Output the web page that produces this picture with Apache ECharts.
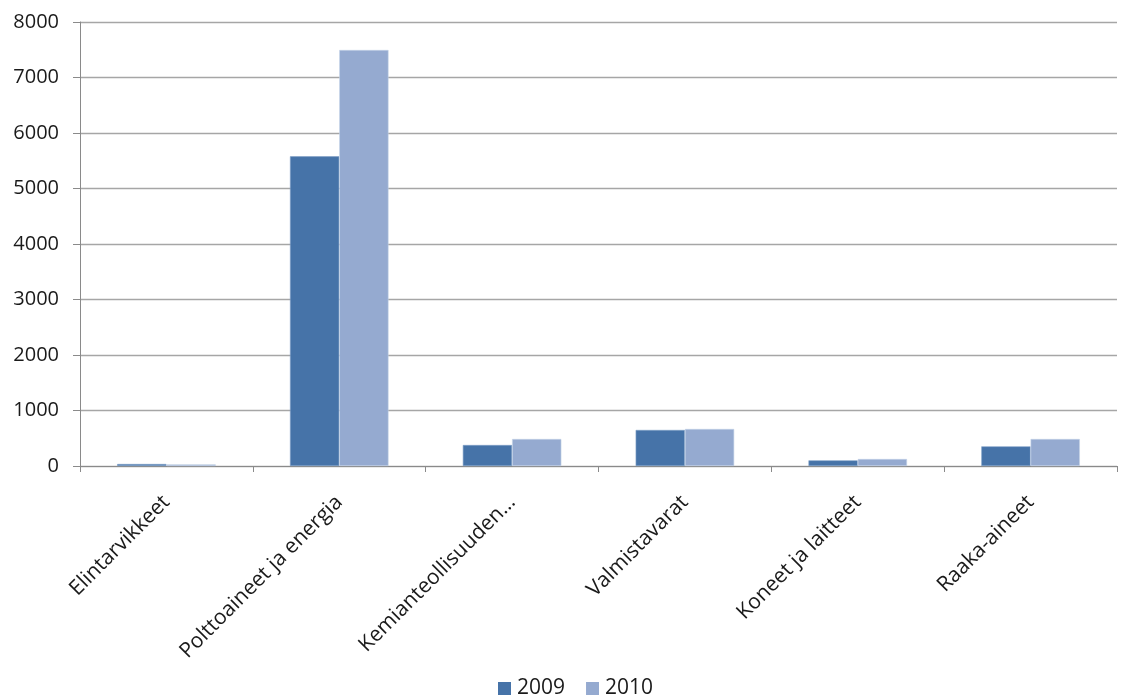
<!DOCTYPE html>
<html>
<head>
<meta charset="utf-8">
<script src="https://cdn.jsdelivr.net/npm/echarts@6/dist/echarts.min.js"></script>
<style>
  html, body { margin: 0; padding: 0; background: #fff; }
  #chart { width: 1124px; height: 698px; }
</style>
</head>
<body>
<div id="chart"></div>
<script>
var categories = ['Elintarvikkeet', 'Polttoaineet ja energia', 'Kemianteollisuuden…', 'Valmistavarat', 'Koneet ja laitteet', 'Raaka-aineet']
var values2009 = [36, 5580, 378, 649, 102, 354]
var values2010 = [30, 7495, 486, 667, 126, 486]
var seriesNames = ['2009', '2010']

var chart = echarts.init(document.getElementById('chart'))
var font = '"Open Sans", "Liberation Sans", sans-serif'

chart.setOption({
  backgroundColor: '#ffffff',
  animation: false,
  textStyle: { fontFamily: font },
  grid: {
    left: 80,
    right: 7,
    top: 22,
    bottom: 232
  },
  legend: {
    top: 673,
    left: 493,
    padding: 5,
    itemWidth: 13,
    itemHeight: 13,
    itemGap: 21,
    icon: 'rect',
    data: seriesNames,
    itemStyle: { borderWidth: 0 },
    textStyle: { fontSize: 21, color: '#1a1a1a', fontFamily: font, padding: [0, 0, 0, 1] }
  },
  xAxis: {
    type: 'category',
    data: categories,
    axisLine: { lineStyle: { color: '#8a8a8a', width: 1 } },
    axisTick: { show: true, alignWithLabel: false, length: 6, lineStyle: { color: '#8a8a8a' } },
    axisLabel: {
      rotate: 45,
      interval: 0,
      fontSize: 21,
      color: '#1a1a1a',
      margin: 33,
      fontFamily: font
    }
  },
  yAxis: {
    type: 'value',
    min: 0,
    max: 8000,
    interval: 1000,
    axisLine: { show: true, lineStyle: { color: '#8a8a8a' } },
    axisTick: { show: true, length: 7, lineStyle: { color: '#8a8a8a' } },
    axisLabel: {
      fontSize: 20,
      color: '#1a1a1a',
      margin: 21,
      fontFamily: font,
      formatter: function (v) { return String(v) }
    },
    splitLine: { lineStyle: { color: '#a6a6a6', width: 1.3 } }
  },
  series: [
    {
      name: seriesNames[0],
      type: 'bar',
      data: values2009,
      barGap: '0%',
      barCategoryGap: '43%',
      itemStyle: { color: '#4673a8', borderColor: '#7f9fc8', borderWidth: 0.6 }
    },
    {
      name: seriesNames[1],
      type: 'bar',
      data: values2010,
      barGap: '0%',
      barCategoryGap: '43%',
      itemStyle: { color: '#95aad0', borderColor: '#c5d3e8', borderWidth: 0.6 }
    }
  ]
})
</script>
</body>
</html>
